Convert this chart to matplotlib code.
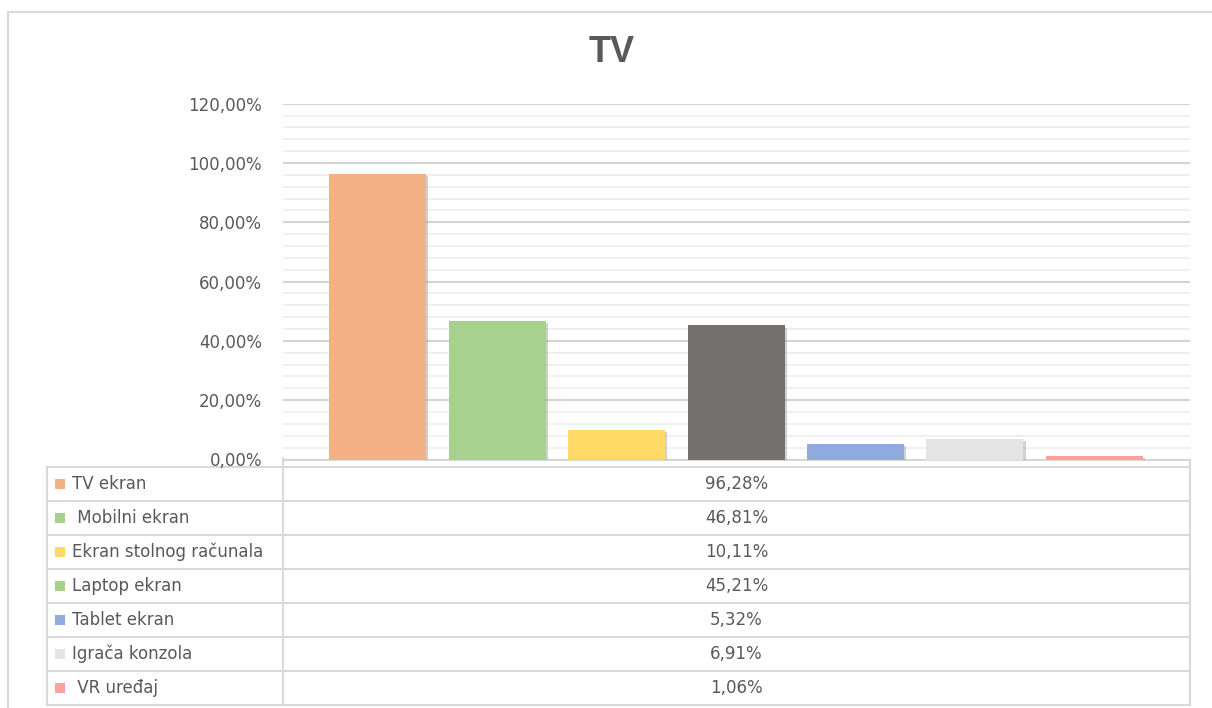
import matplotlib
matplotlib.use("Agg")
import matplotlib.pyplot as plt
import matplotlib.patheffects as pe
from matplotlib.ticker import MultipleLocator, FuncFormatter
from matplotlib.patches import Rectangle

# ---------------- data ----------------
title = "TV"
categories = ["TV ekran", " Mobilni ekran", "Ekran stolnog računala", "Laptop ekran",
              "Tablet ekran", "Igrača konzola", " VR uređaj"]
values = [96.28, 46.81, 10.11, 45.21, 5.32, 6.91, 1.06]
bar_colors = ["#F4B183", "#A9D18E", "#FFD966", "#767171", "#8FAADC", "#E4E4E4", "#FF9F9F"]
key_colors = ["#F4B183", "#A9D18E", "#FFD966", "#A9D18E", "#8FAADC", "#E4E4E4", "#FF9F9F"]
y_ticks = [0, 20, 40, 60, 80, 100, 120]

W, H = 1212, 708
TXT = "#595959"
GRID = "#D9D9D9"

def fmt_pct(v):
    return f"{v:.2f}".replace(".", ",") + "%"

fig = plt.figure(figsize=(W / 100, H / 100), dpi=100)
fig.patch.set_facecolor("white")

# overlay axes in pixel coordinates for frame and data table
ov = fig.add_axes([0, 0, 1, 1], zorder=0)
ov.set_xlim(0, W)
ov.set_ylim(H, 0)
ov.axis("off")

lw = 1.5
# outer chart border (left and top visible)
ov.plot([8, 8, W + 5], [H + 5, 12, 12], color=GRID, lw=1.6, solid_capstyle="butt")

# data table
x_left, x_mid, x_right = 47, 283, 1190
row_top = 466.7
row_h = 34.0
n = len(categories)
for k in range(n + 1):
    y = row_top + row_h * k
    ov.plot([x_left, x_right], [y, y], color=GRID, lw=lw)
ov.plot([x_mid, x_right], [459.5, 459.5], color=GRID, lw=lw)
ov.plot([x_left, x_left], [row_top, row_top + row_h * n], color=GRID, lw=lw)
ov.plot([x_mid, x_mid], [458, row_top + row_h * n], color=GRID, lw=lw)
ov.plot([x_right, x_right], [459.5, row_top + row_h * n], color=GRID, lw=lw)

for k, (lab, val, kc) in enumerate(zip(categories, values, key_colors)):
    yc = row_top + row_h * (k + 0.5)
    ov.add_patch(Rectangle((55, yc - 5), 10, 10, facecolor=kc, edgecolor="none"))
    ov.text(72, yc, lab, ha="left", va="center", fontsize=12, color=TXT,
            family="DejaVu Sans")
    ov.text((x_mid + x_right) / 2, yc, fmt_pct(val), ha="center", va="center",
            fontsize=12, color=TXT, family="DejaVu Sans")

# title
ov.text(612, 52, title, ha="center", va="center", fontsize=26, fontweight="bold",
        color=TXT, family="Liberation Sans")

# main bar axes
y0_px, y120_px = 459.5, 103.7
ax = fig.add_axes([x_mid / W, (H - y0_px) / H, (x_right - x_mid) / W, (y0_px - y120_px) / H],
                  zorder=1)
ax.patch.set_alpha(0)
step = 119.5
c0 = 377.5
ax.set_xlim((x_mid - c0) / step, (x_right - c0) / step)
ax.set_ylim(0, 120)

xs = list(range(n))
bars = ax.bar(xs, values, width=97 / step, color=bar_colors, zorder=3)
for b in bars:
    b.set_path_effects([pe.SimplePatchShadow(offset=(1.5, -1.5), shadow_rgbFace="#808080", alpha=0.35),
                        pe.Normal()])

ax.set_yticks(y_ticks)
ax.yaxis.set_minor_locator(MultipleLocator(4))
ax.yaxis.set_major_formatter(FuncFormatter(lambda v, p: fmt_pct(v)))
ax.set_xticks([])
ax.tick_params(axis="y", which="both", length=0, pad=15, labelsize=12, labelcolor=TXT)
for t in ax.get_yticklabels():
    t.set_family("DejaVu Sans")
ax.grid(True, axis="y", which="major", color="#D4D4D4", lw=1.5, zorder=0)
ax.grid(True, axis="y", which="minor", color="#F0F0F0", lw=1.4, zorder=0)
ax.set_axisbelow(True)
for s in ax.spines.values():
    s.set_visible(False)

fig.savefig("out.png", dpi=100, facecolor="white")
